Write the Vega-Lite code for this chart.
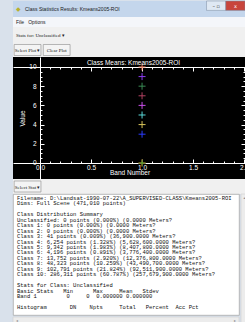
{
  "$schema": "https://vega.github.io/schema/vega-lite/v6.json",
  "padding": {"left": 12, "top": 0, "right": 0, "bottom": 0},
  "background": "#d9e1eb",
  "spacing": 0,
  "bounds": "flush",
  "config": {"view": {"stroke": null}, "concat": {"spacing": 0}},
  "resolve": {"scale": {"x": "independent", "y": "independent", "color": "independent"}},
  "datasets": {
    "means": [
      {"cls": "Unclassified", "band": 1, "mean": 0},
      {"cls": "Class 1", "band": 1, "mean": 0},
      {"cls": "Class 2", "band": 1, "mean": 0},
      {"cls": "Class 3", "band": 1, "mean": 3},
      {"cls": "Class 4", "band": 1, "mean": 4},
      {"cls": "Class 5", "band": 1, "mean": 5},
      {"cls": "Class 6", "band": 1, "mean": 6},
      {"cls": "Class 7", "band": 1, "mean": 7},
      {"cls": "Class 8", "band": 1, "mean": 8},
      {"cls": "Class 9", "band": 1, "mean": 9},
      {"cls": "Class 10", "band": 1, "mean": 10}
    ],
    "lines": [
      {"line": 0, "t": "Filename: D:\\Landsat-1990-07-22\\A_SUPERVISED-CLASS\\Kmeans2005-ROI"},
      {"line": 1, "t": "Dims: Full Scene (471,010 points)"},
      {"line": 3, "t": "Class Distribution Summary"},
      {"line": 4, "t": "Unclassified: 0 points (0.000%) (0.0000 Meters?"},
      {"line": 5, "t": "Class 1: 0 points (0.000%) (0.0000 Meters?"},
      {"line": 6, "t": "Class 2: 0 points (0.000%) (0.0000 Meters?"},
      {"line": 7, "t": "Class 3: 41 points (0.009%) (36,900.0000 Meters?"},
      {"line": 8, "t": "Class 4: 6,254 points (1.328%) (5,628,600.0000 Meters?"},
      {"line": 9, "t": "Class 5: 9,342 points (1.983%) (8,407,800.0000 Meters?"},
      {"line": 10, "t": "Class 6: 4,196 points (0.891%) (3,776,400.0000 Meters?"},
      {"line": 11, "t": "Class 7: 13,752 points (2.920%) (12,376,800.0000 Meters?"},
      {"line": 12, "t": "Class 8: 48,323 points (10.259%) (43,490,700.0000 Meters?"},
      {"line": 13, "t": "Class 9: 102,791 points (21.824%) (92,511,900.0000 Meters?"},
      {"line": 14, "t": "Class 10: 286,311 points (60.787%) (257,679,900.0000 Meters?"},
      {"line": 16, "t": "Stats for Class: Unclassified"},
      {"line": 17, "t": "Basic Stats\u00a0\u00a0\u00a0Min\u00a0\u00a0\u00a0\u00a0\u00a0\u00a0Max\u00a0\u00a0\u00a0\u00a0\u00a0Mean\u00a0\u00a0\u00a0Stdev"},
      {"line": 18, "t": "\u00a0\u00a0\u00a0\u00a0Band 1\u00a0\u00a0\u00a0\u00a0\u00a0\u00a0\u00a0\u00a0\u00a00\u00a0\u00a0\u00a0\u00a0\u00a00\u00a0\u00a00.000000\u00a00.000000"},
      {"line": 20, "t": "Histogram\u00a0\u00a0\u00a0\u00a0\u00a0\u00a0\u00a0DN\u00a0\u00a0\u00a0\u00a0Npts\u00a0\u00a0\u00a0\u00a0\u00a0Total\u00a0\u00a0\u00a0Percent\u00a0\u00a0Acc Pct"}
    ]
  },
  "vconcat": [
    {
      "width": 233, "height": 16,
      "view": {"fill": "#c4d6ec", "stroke": null},
      "layer": [
        {
          "data": {"values": [{"t": "Class Statistics Results: Kmeans2005-ROI"}]},
          "mark": {"type": "text", "align": "left", "baseline": "middle", "dx": 12, "font": "Liberation Sans", "fontSize": 5, "color": "#1a1a1a"},
          "encoding": {
            "text": {"field": "t"},
            "x": {"datum": 0, "type": "quantitative", "scale": {"domain": [0, 1]}, "axis": null}
          }
        },
        {
          "data": {"values": [{"t": "\u25c6"}]},
          "mark": {"type": "text", "align": "left", "baseline": "middle", "dx": 3, "font": "DejaVu Sans", "fontSize": 6, "color": "#b8b030"},
          "encoding": {
            "text": {"field": "t"},
            "x": {"datum": 0, "type": "quantitative", "scale": {"domain": [0, 1]}, "axis": null}
          }
        },
        {
          "data": {"values": [{"w": "k", "g": "\u2013 \u25ab", "c": "#dfe8f3", "tc": "#333333"}, {"w": "l", "g": "x", "c": "#c8453c", "tc": "#ffffff"}]},
          "encoding": {
            "x": {"field": "w", "type": "nominal", "scale": {"domain": ["a","b","c","d","e","f","g","h","i","j","k","l"], "paddingInner": 0, "paddingOuter": 0.05}, "axis": null},
            "y": {"datum": "r", "type": "nominal", "scale": {"paddingInner": 0, "paddingOuter": 0.35, "align": 0}, "axis": null}
          },
          "layer": [
            {
              "mark": {"type": "bar", "stroke": "#7a8ca3", "strokeWidth": 0.5},
              "encoding": {"fill": {"field": "c", "type": "nominal", "scale": null}}
            },
            {
              "mark": {"type": "text", "font": "DejaVu Sans", "fontSize": 5, "baseline": "middle"},
              "encoding": {"text": {"field": "g"}, "color": {"field": "tc", "type": "nominal", "scale": null}}
            }
          ]
        }
      ],
      "resolve": {"scale": {"x": "independent"}}
    },
    {
      "width": 233, "height": 10,
      "view": {"fill": "#f4f6fa", "stroke": null},
      "data": {"values": [{"t": "File\u00a0\u00a0\u00a0Options"}]},
      "mark": {"type": "text", "align": "left", "baseline": "middle", "dx": 3, "font": "Liberation Sans", "fontSize": 5, "color": "#1a1a1a"},
      "encoding": {
        "text": {"field": "t"},
        "x": {"datum": 0, "type": "quantitative", "scale": {"domain": [0, 1]}, "axis": null}
      }
    },
    {
      "width": 233, "height": 16,
      "view": {"fill": "#f0f0f0", "stroke": null},
      "data": {"values": [{"t": "Stats for: Unclassified \u25be"}]},
      "mark": {"type": "text", "align": "left", "baseline": "middle", "dx": 3, "font": "Liberation Serif", "fontSize": 5, "color": "#1a1a1a"},
      "encoding": {
        "text": {"field": "t"},
        "x": {"datum": 0, "type": "quantitative", "scale": {"domain": [0, 1]}, "axis": null}
      }
    },
    {
      "width": 233, "height": 14,
      "view": {"fill": "#f0f0f0", "stroke": null},
      "data": {"values": [{"b": "Select Plot \u25be"}, {"b": "Clear Plot"}]},
      "encoding": {
        "x": {"field": "b", "type": "nominal", "scale": {"domain": ["Select Plot \u25be", "Clear Plot", "s1", "s2", "s3", "s4", "s5", "s6"], "paddingInner": 0.08, "paddingOuter": 0.04}, "axis": null},
        "y": {"datum": "r", "type": "nominal", "scale": {"paddingInner": 0, "paddingOuter": 0.136}, "axis": null}
      },
      "layer": [
        {"mark": {"type": "bar", "fill": "#f4f4f4", "stroke": "#8a8a8a", "strokeWidth": 0.6}},
        {"mark": {"type": "text", "font": "Liberation Serif", "fontSize": 5, "color": "#1a1a1a"}, "encoding": {"text": {"field": "b"}}}
      ]
    },
    {
      "width": 233, "height": 122,
      "view": {"fill": "#000000", "stroke": null},
      "title": {"text": "Class Means: Kmeans2005-ROI", "color": "#ffffff", "font": "Liberation Sans", "fontSize": 6.5, "fontWeight": "normal", "offset": -9, "dx": 4},
      "data": {"name": "means"},
      "encoding": {
        "color": {"field": "cls", "type": "nominal", "scale": {"domain": ["Unclassified","Class 1","Class 2","Class 3","Class 4","Class 5","Class 6","Class 7","Class 8","Class 9","Class 10"], "range": ["#000000","#ff0000","#3cc83c","#2a3cff","#d8c45a","#5ad8d8","#c84ee8","#b04060","#3a8a55","#8c3cf0","#f07a5a"]}, "legend": null}
      },
      "layer": [
        {
          "mark": {"type": "point", "shape": "M-1,0L1,0M0,-1L0,1", "filled": false, "size": 49, "strokeWidth": 1, "opacity": 1},
          "encoding": {
            "x": {"field": "band", "type": "quantitative", "scale": {"domain": [-0.265, 2.019], "nice": false, "zero": false},
              "axis": {"orient": "bottom", "offset": -16, "values": [0, 0.5, 1, 1.5, 2], "format": ".1f", "grid": false, "domainColor": "#ffffff", "tickColor": "#ffffff", "tickSize": -4, "labelColor": "#ffffff", "labelFont": "Liberation Sans", "labelFontSize": 6.5, "labelPadding": 5, "labelFlush": false, "labelOverlap": false, "title": "Band Number", "titleColor": "#ffffff", "titleFont": "Liberation Sans", "titleFontSize": 6.5, "titleFontWeight": "normal", "titlePadding": -1}},
            "y": {"field": "mean", "type": "quantitative", "scale": {"domain": [-1.667, 11.04], "nice": false, "zero": false},
              "axis": {"orient": "left", "offset": -27, "values": [0, 2, 4, 6, 8, 10], "format": "d", "grid": false, "domainColor": "#ffffff", "tickColor": "#ffffff", "tickSize": -4, "labelColor": "#ffffff", "labelFont": "Liberation Sans", "labelFontSize": 6.5, "labelPadding": 8, "labelOverlap": false, "title": "Value", "titleColor": "#ffffff", "titleFont": "Liberation Sans", "titleFontSize": 6.5, "titleFontWeight": "normal", "titlePadding": 3}}
          }
        },
        {
          "mark": {"type": "point", "opacity": 0},
          "encoding": {
            "x": {"field": "band", "type": "quantitative", "axis": {"orient": "top", "offset": -10, "values": [0, 0.5, 1, 1.5, 2], "grid": false, "labels": false, "domainColor": "#ffffff", "tickColor": "#ffffff", "tickSize": -4, "title": null}},
            "y": {"field": "mean", "type": "quantitative", "axis": {"orient": "right", "offset": -1, "values": [0, 2, 4, 6, 8, 10], "grid": false, "labels": false, "domainColor": "#ffffff", "tickColor": "#ffffff", "tickSize": -4, "title": null}}
          }
        },
        {
          "mark": {"type": "point", "opacity": 0},
          "encoding": {
            "x": {"field": "band", "type": "quantitative", "axis": {"orient": "bottom", "offset": -16, "values": [0.1,0.2,0.3,0.4,0.6,0.7,0.8,0.9,1.1,1.2,1.3,1.4,1.6,1.7,1.8,1.9], "grid": false, "labels": false, "domain": false, "tickColor": "#ffffff", "tickSize": -2, "title": null}},
            "y": {"field": "mean", "type": "quantitative", "axis": {"orient": "left", "offset": -27, "values": [0.5,1,1.5,2.5,3,3.5,4.5,5,5.5,6.5,7,7.5,8.5,9,9.5], "grid": false, "labels": false, "domain": false, "tickColor": "#ffffff", "tickSize": -2, "title": null}}
          }
        },
        {
          "mark": {"type": "point", "opacity": 0},
          "encoding": {
            "x": {"field": "band", "type": "quantitative", "axis": {"orient": "top", "offset": -10, "values": [0.1,0.2,0.3,0.4,0.6,0.7,0.8,0.9,1.1,1.2,1.3,1.4,1.6,1.7,1.8,1.9], "grid": false, "labels": false, "domain": false, "tickColor": "#ffffff", "tickSize": -2, "title": null}},
            "y": {"field": "mean", "type": "quantitative", "axis": {"orient": "right", "offset": -1, "values": [0.5,1,1.5,2.5,3,3.5,4.5,5,5.5,6.5,7,7.5,8.5,9,9.5], "grid": false, "labels": false, "domain": false, "tickColor": "#ffffff", "tickSize": -2, "title": null}}
          }
        }
      ],
      "resolve": {"axis": {"x": "independent", "y": "independent"}}
    },
    {
      "width": 233, "height": 15,
      "view": {"fill": "#f0f0f0", "stroke": null},
      "data": {"values": [{"b": "Select Stat \u25be"}]},
      "encoding": {
        "x": {"field": "b", "type": "nominal", "scale": {"domain": ["Select Stat \u25be", "s1", "s2", "s3", "s4", "s5", "s6", "s7"], "paddingInner": 0.08, "paddingOuter": 0.04}, "axis": null},
        "y": {"datum": "r", "type": "nominal", "scale": {"paddingInner": 0, "paddingOuter": 0.18}, "axis": null}
      },
      "layer": [
        {"mark": {"type": "bar", "fill": "#f4f4f4", "stroke": "#8a8a8a", "strokeWidth": 0.6}},
        {"mark": {"type": "text", "font": "Liberation Serif", "fontSize": 5, "color": "#1a1a1a"}, "encoding": {"text": {"field": "b"}}}
      ]
    },
    {
      "spacing": 0,
      "hconcat": [
        {
          "spacing": 0,
          "vconcat": [
            {
              "width": 226, "height": 121,
              "view": {"fill": "#ffffff", "stroke": "#a8a8a8", "strokeWidth": 0.8},
              "data": {"name": "lines"},
              "mark": {"type": "text", "align": "left", "baseline": "middle", "dx": 4, "font": "Liberation Mono", "fontSize": 5.5, "color": "#111111"},
              "encoding": {
                "text": {"field": "t"},
                "x": {"datum": 0, "type": "quantitative", "scale": {"domain": [0, 1]}, "axis": null},
                "y": {"field": "line", "type": "quantitative", "scale": {"domain": [-0.734, 21.468], "nice": false, "zero": false, "reverse": true}, "axis": null}
              }
            },
            {
              "width": 226, "height": 8,
              "view": {"fill": "#ececec", "stroke": "#c8c8c8", "strokeWidth": 0.5},
              "data": {"values": [{"g": "\u25c2", "p": 0}, {"g": "\u25b8", "p": 1}]},
              "layer": [
                {
                  "transform": [{"filter": "datum.p == 0"}],
                  "mark": {"type": "text", "align": "left", "baseline": "middle", "dx": 3, "font": "DejaVu Sans", "fontSize": 4, "color": "#909090"},
                  "encoding": {
                    "text": {"field": "g"},
                    "x": {"field": "p", "type": "quantitative", "scale": {"domain": [0, 1]}, "axis": null}
                  }
                },
                {
                  "transform": [{"filter": "datum.p == 1"}],
                  "mark": {"type": "text", "align": "right", "baseline": "middle", "dx": -3, "font": "DejaVu Sans", "fontSize": 4, "color": "#909090"},
                  "encoding": {
                    "text": {"field": "g"},
                    "x": {"field": "p", "type": "quantitative", "scale": {"domain": [0, 1]}, "axis": null}
                  }
                }
              ]
            }
          ]
        },
        {
          "width": 7, "height": 129,
          "view": {"fill": "#ececec", "stroke": "#c8c8c8", "strokeWidth": 0.5},
          "data": {"values": [{"g": "\u25b4"}]},
          "mark": {"type": "text", "baseline": "top", "dy": 2, "font": "DejaVu Sans", "fontSize": 4, "color": "#909090"},
          "encoding": {
            "text": {"field": "g"},
            "y": {"datum": 0, "type": "quantitative", "scale": {"domain": [0, 1], "reverse": true}, "axis": null}
          }
        }
      ]
    }
  ]
}
